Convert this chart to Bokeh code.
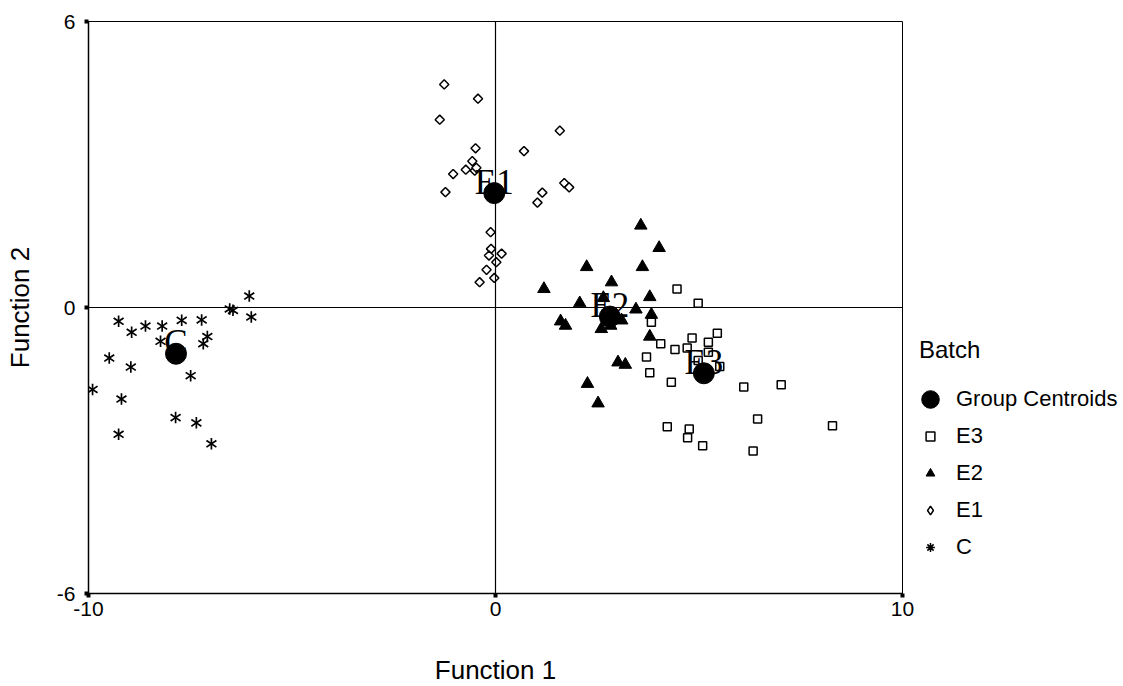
import numpy as np
from bokeh.plotting import figure
from bokeh.models import Range1d, FixedTicker, Span, Legend, LegendItem
from bokeh.core.properties import value
from bokeh.embed import file_html
from bokeh.resources import INLINE

# ---- data ----
c_x = [-6.05, -6.53, -6.45, -6.00, -9.26, -8.94, -8.60, -8.19, -7.71, -7.22, -7.08,
       -7.18, -8.23, -9.49, -8.96, -7.49, -9.90, -9.19, -7.86, -7.35, -9.26, -6.98]
c_y = [0.24, -0.03, -0.06, -0.20, -0.29, -0.52, -0.39, -0.39, -0.27, -0.26, -0.61,
       -0.76, -0.71, -1.06, -1.25, -1.43, -1.72, -1.92, -2.31, -2.42, -2.66, -2.86]

e1_x = [-1.26, -0.43, -1.37, 1.58, -0.49, 0.70, -0.57, -0.73, -1.04, -0.51, -0.47,
        -1.23, 1.69, 1.81, 1.15, 1.03, -0.12, -0.11, 0.15, -0.16, 0.02, -0.22, -0.03, -0.39]
e1_y = [4.68, 4.38, 3.94, 3.71, 3.34, 3.28, 3.07, 2.89, 2.80, 2.87, 2.93,
        2.42, 2.61, 2.52, 2.41, 2.20, 1.58, 1.23, 1.13, 1.09, 0.95, 0.79, 0.62, 0.53]

e2_x = [3.57, 4.02, 2.24, 3.61, 1.19, 2.85, 3.79, 2.07, 3.45, 3.83, 1.60,
        1.72, 2.65, 3.10, 2.60, 2.83, 3.79, 3.01, 3.19, 2.26, 2.52]
e2_y = [1.72, 1.25, 0.85, 0.85, 0.39, 0.53, 0.22, 0.09, -0.04, -0.15, -0.29,
        -0.38, 0.20, -0.27, -0.45, -0.38, -0.61, -1.15, -1.20, -1.60, -2.01]

e3_x = [4.46, 4.98, 3.83, 5.45, 4.83, 5.23, 4.71, 5.23, 4.06, 4.41, 3.71, 5.51,
        4.98, 3.79, 4.32, 6.10, 7.02, 6.44, 8.28, 4.22, 4.76, 4.72, 5.09, 6.33]
e3_y = [0.39, 0.09, -0.31, -0.54, -0.64, -0.73, -0.85, -0.94, -0.76, -0.88, -1.04, -1.24,
        -1.11, -1.37, -1.57, -1.67, -1.62, -2.34, -2.48, -2.50, -2.55, -2.73, -2.90, -3.01]

centroid_names = ["C", "E1", "E2", "E3"]
centroid_x = [-7.85, -0.03, 2.81, 5.12]
centroid_y = [-0.97, 2.40, -0.19, -1.38]

x_ticks = [-10, 0, 10]
y_ticks = [-6, 0, 6]
x_tick_labels = ["-10", "0", "10"]
y_tick_labels = ["-6", "0", "6"]

# ---- figure ----
p = figure(frame_width=814, frame_height=572, output_backend="svg", toolbar_location=None,
           x_range=Range1d(-10, 10), y_range=Range1d(-6, 6),
           min_border_left=88, min_border_top=21, min_border_right=205, min_border_bottom=80,
           background_fill_color="white", border_fill_color="white")
p.grid.visible = False
p.outline_line_color = "black"
p.outline_line_width = 1

for ax in (p.xaxis[0], p.yaxis[0]):
    ax.major_label_text_font = "Liberation Sans"
    ax.major_label_text_font_size = "21px"
    ax.major_label_text_color = "black"
    ax.axis_label_text_font = "Liberation Sans"
    ax.axis_label_text_font_size = "26px"
    ax.axis_label_text_font_style = "normal"
    ax.axis_label_text_color = "black"
    ax.axis_line_color = "black"
    ax.axis_line_width = 1.5
    ax.major_tick_in = 0
    ax.major_tick_out = 4
    ax.major_tick_line_width = 4
    ax.major_tick_line_color = "black"
    ax.minor_tick_line_color = None

p.xaxis.ticker = FixedTicker(ticks=x_ticks)
p.yaxis.ticker = FixedTicker(ticks=y_ticks)
p.xaxis.major_label_overrides = dict(zip(x_ticks, x_tick_labels))
p.yaxis.major_label_overrides = dict(zip(y_ticks, y_tick_labels))
p.xaxis.axis_label = "Function 1"
p.yaxis.axis_label = "Function 2"
p.xaxis.major_label_standoff = 4
p.yaxis.major_label_standoff = 9
p.xaxis.axis_label_standoff = 36
p.yaxis.axis_label_standoff = 19

p.add_layout(Span(location=0, dimension="height", line_color="black", line_width=1.2))
p.add_layout(Span(location=0, dimension="width", line_color="black", line_width=1.2))

r_e3 = p.scatter(e3_x, e3_y, marker="square", size=8, fill_color="white",
                 line_color="black", line_width=1.5)
r_e2 = p.scatter(e2_x, e2_y, marker="triangle", size=12.5, fill_color="black",
                 line_color="black", line_width=1)
r_e1 = p.scatter(e1_x, e1_y, marker="square", angle=np.pi / 4, size=6.5,
                 fill_color="white", line_color="black", line_width=1.5)
r_c1 = p.scatter(c_x, c_y, marker="y", size=11.5, line_color="black", line_width=1.7)
r_c2 = p.scatter(c_x, c_y, marker="y", angle=np.pi, size=11.5, line_color="black", line_width=1.7)

# legend symbols (same data, not drawn in the plot area)
leg_e1 = p.scatter(e1_x, e1_y, marker="diamond", size=12, fill_color="white",
                   line_color="black", line_width=1.5, visible=False)
leg_c = p.scatter(c_x, c_y, marker="asterisk", size=10, line_color="black",
                  line_width=1.5, visible=False)

# centroid labels
p.text(x=centroid_x, y=centroid_y, text=centroid_names, y_offset=-11,
       text_align="center", text_baseline="alphabetic",
       text_font=value("Liberation Serif"), text_font_size="35px", text_color="black")

r_cent = p.ellipse(x=centroid_x, y=centroid_y, width=21, height=21,
                   width_units="screen", height_units="screen",
                   fill_color="black", line_color="black")

legend = Legend(items=[
    LegendItem(label="Group Centroids", renderers=[r_cent]),
    LegendItem(label="E3", renderers=[r_e3]),
    LegendItem(label="E2", renderers=[r_e2]),
    LegendItem(label="E1", renderers=[leg_e1]),
    LegendItem(label="C", renderers=[leg_c]),
], location=(17, 33))
legend.title = "Batch"
legend.title_text_font = "Liberation Sans"
legend.title_text_font_size = "24px"
legend.title_text_font_style = "normal"
legend.title_text_color = "black"
legend.title_standoff = 22
legend.label_text_font = "Liberation Sans"
legend.label_text_font_size = "22px"
legend.label_text_color = "black"
legend.glyph_width = 22
legend.glyph_height = 22
legend.label_height = 22
legend.spacing = 11
legend.label_standoff = 15
legend.padding = 2
legend.margin = 0
legend.border_line_color = None
legend.background_fill_alpha = 0
legend.inactive_fill_alpha = 0
p.add_layout(legend, "right")

open("out.html", "w").write(file_html(p, INLINE))
